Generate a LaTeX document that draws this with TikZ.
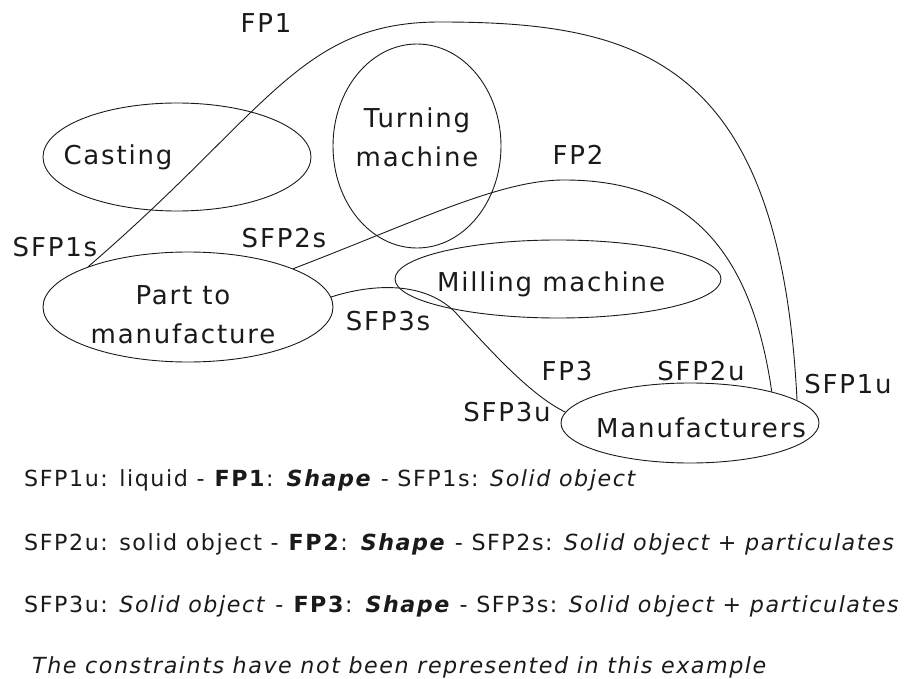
\documentclass[tikz,border=0pt]{standalone}
\usepackage{fontspec}
\usepackage{xcolor}
\setmainfont{DejaVu Sans}[LetterSpace=7]
\usetikzlibrary{shapes.geometric}
\definecolor{InkBlack}{HTML}{1A1A1A}

\tikzset{
  blob/.style={ellipse, draw=InkBlack, line width=0.9pt, inner sep=0pt},
  lbl/.style={font=\fontsize{26}{39}\selectfont, text=InkBlack, align=center,
              inner sep=0pt, anchor=base},
  flow/.style={draw=InkBlack, line width=0.9pt},
  legend/.style={font=\fontsize{22.2}{26}\selectfont, text=InkBlack,
                 inner sep=0pt, anchor=base west}
}

\begin{document}
\begin{tikzpicture}[x=1pt, y=-1pt]
        \useasboundingbox (0,0) rectangle (908,679);
        \node[blob, minimum width=268, minimum height=108] (casting) at (177,157) {};
        \node[blob, minimum width=168, minimum height=204] (turning) at (417,146) {};
        \node[blob, minimum width=290, minimum height=110] (part) at (188,307) {};
        \node[blob, minimum width=326, minimum height=78] (milling) at (558,279) {};
        \node[blob, minimum width=258, minimum height=80] (manu) at (690,423) {};

        \node[lbl] (castingtxt) at (118,165) {Casting};
        \node[lbl] (turningtxt) at (417,167) {Turning\\machine};
        \node[lbl] (parttxt) at (183,343) {Part to\\manufacture};
        \node[lbl] (millingtxt) at (551,291) {Milling machine};
        \node[lbl] (manutxt) at (701,437) {Manufacturers};

        \node[lbl] (fp1) at (266,33) {FP1};
        \node[lbl] (fp2) at (578,165) {FP2};
        \node[lbl] (fp3) at (567,380) {FP3};
        \node[lbl] (sfp1s) at (55,257) {SFP1s};
        \node[lbl] (sfp2s) at (284,248) {SFP2s};
        \node[lbl] (sfp3s) at (388,330) {SFP3s};
        \node[lbl] (sfp1u) at (848,393) {SFP1u};
        \node[lbl] (sfp2u) at (701,380) {SFP2u};
        \node[lbl] (sfp3u) at (507,421) {SFP3u};

        \draw[flow] (part.158) .. controls (270,110) and (300,22) .. (440,22)
                    .. controls (640,22) and (780,60) .. (manu.12);
        \draw[flow] (part.20) .. controls (420,220) and (500,180) .. (564,180)
                    .. controls (680,180) and (750,240) .. (manu.21);
        \draw[flow] (part.4) .. controls (375,283) and (425,282) .. (455,312)
                    .. controls (490,350) and (530,395) .. (manu.175);

        \node[legend] (leg1) at (24,486) {SFP1u: liquid - \textbf{FP1}: \textbf{\textit{Shape}} - SFP1s: \textit{Solid object}};
        \node[legend] (leg2) at (24,550) {SFP2u: solid object - \textbf{FP2}: \textbf{\textit{Shape}} - SFP2s: \textit{Solid object + particulates}};
        \node[legend] (leg3) at (24,612) {SFP3u: \textit{Solid object} - \textbf{FP3}: \textbf{\textit{Shape}} - SFP3s: \textit{Solid object + particulates}};
        \node[legend] (leg4) at (32,673) {\textit{The constraints have not been represented in this example}};
      \end{tikzpicture}
\end{document}
